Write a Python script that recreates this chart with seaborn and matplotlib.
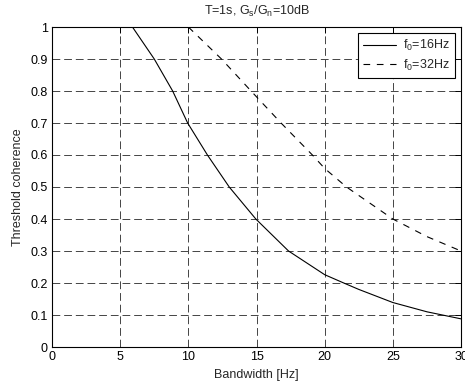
import matplotlib
matplotlib.use("Agg")
import matplotlib.pyplot as plt
from matplotlib.ticker import FuncFormatter, MultipleLocator
import seaborn as sns
import pandas as pd

# data
bw_16 = [5.9, 7.5, 8.85, 9.95, 11.4, 13.0, 14.95, 17.35, 20.0, 21.4, 22.5, 25.0, 27.5, 30.0]
coh_16 = [1.0, 0.9, 0.8, 0.7, 0.6, 0.5, 0.4, 0.3, 0.226, 0.2, 0.18, 0.139, 0.11, 0.088]
bw_32 = [10.0, 12.43, 14.6, 16.8, 19.1, 20.0, 21.6, 25.0, 27.5, 30.0]
coh_32 = [1.0, 0.9, 0.8, 0.7, 0.6, 0.558, 0.5, 0.4, 0.345, 0.3]
labels = ["f$_0$=16Hz", "f$_0$=32Hz"]
x_ticks = [0, 5, 10, 15, 20, 25, 30]
title = "T=1s, G$_s$/G$_n$=10dB"
xlabel = "Bandwidth [Hz]"
ylabel = "Threshold coherence"

sns.set_style("white")
plt.rcParams["font.family"] = ["Liberation Sans", "DejaVu Sans"]
plt.rcParams["mathtext.default"] = "regular"
plt.rcParams["font.size"] = 9

df16 = pd.DataFrame({"bw": bw_16, "coh": coh_16})
df32 = pd.DataFrame({"bw": bw_32, "coh": coh_32})

fig = plt.figure(figsize=(4.65, 3.9), dpi=100)
ax = fig.add_axes([52 / 465, 43 / 390, 409 / 465, 320 / 390])

sns.lineplot(data=df16, x="bw", y="coh", ax=ax, color="black", lw=0.8,
             label=labels[0], sort=False)
sns.lineplot(data=df32, x="bw", y="coh", ax=ax, color="black", lw=0.8,
             linestyle=(0, (6, 6)), label=labels[1], sort=False)

ax.set_xlim(0, 30)
ax.set_ylim(0, 1)
ax.set_xticks(x_ticks)
ax.yaxis.set_major_locator(MultipleLocator(0.1))
ax.yaxis.set_major_formatter(FuncFormatter(lambda v, p: "%g" % round(v, 2)))
ax.xaxis.set_major_formatter(FuncFormatter(lambda v, p: "%g" % v))

ax.grid(True, color="#444444", linestyle=(0, (8, 4)), lw=0.7)
ax.tick_params(direction="in", length=4, width=0.7, top=True, right=True,
               labelsize=9, colors="black", pad=3)
for s in ax.spines.values():
    s.set_color("black")
    s.set_linewidth(0.8)
    s.set_visible(True)

ax.set_title(title, fontsize=9, pad=9)
ax.set_xlabel(xlabel, fontsize=9, labelpad=4)
ax.set_ylabel(ylabel, fontsize=9, labelpad=5)

leg = ax.legend(loc="upper right", fontsize=9, frameon=True, fancybox=False,
                edgecolor="black", framealpha=1, handlelength=2.6,
                borderpad=0.4, labelspacing=0.35, borderaxespad=0.5,
                handletextpad=0.6)
leg.get_frame().set_linewidth(0.8)

fig.savefig("out.png", dpi=100)
